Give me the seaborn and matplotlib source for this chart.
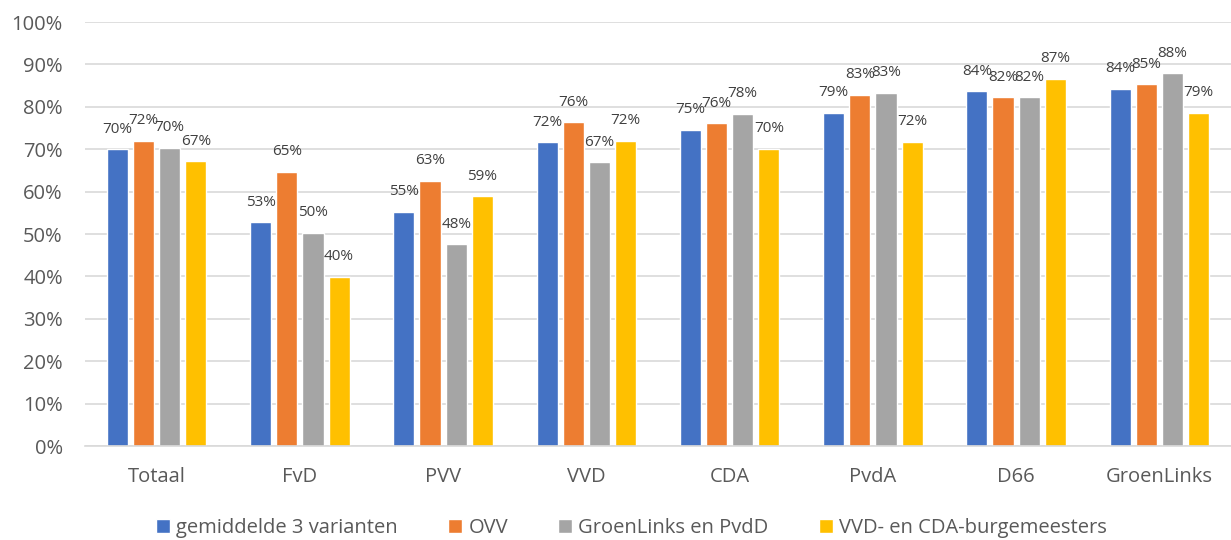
import matplotlib
matplotlib.use("Agg")
import matplotlib.pyplot as plt
import seaborn as sns
import pandas as pd
from matplotlib.ticker import PercentFormatter, MultipleLocator

categories = ["Totaal", "FvD", "PVV", "VVD", "CDA", "PvdA", "D66", "GroenLinks"]
series = ["gemiddelde 3 varianten", "OVV", "GroenLinks en PvdD", "VVD- en CDA-burgemeesters"]
gemiddelde = [70.0, 52.8, 55.3, 71.6, 74.6, 78.6, 83.7, 84.2]
ovv = [72.0, 64.7, 62.6, 76.3, 76.1, 82.8, 82.3, 85.3]
gl_pvdd = [70.4, 50.3, 47.6, 66.9, 78.4, 83.3, 82.3, 87.9]
vvd_cda = [67.2, 39.9, 58.9, 72.0, 70.1, 71.8, 86.6, 78.6]
colors = ["#4472C4", "#ED7D31", "#A5A5A5", "#FFC000"]

values = [gemiddelde, ovv, gl_pvdd, vvd_cda]
rows = []
for s, vals in zip(series, values):
    for c, v in zip(categories, vals):
        rows.append({"categorie": c, "reeks": s, "waarde": v})
df = pd.DataFrame(rows)

sns.set_theme(style="white")
plt.rcParams["font.family"] = ["Open Sans", "DejaVu Sans"]
text_color = "#595959"

fig = plt.figure(figsize=(12.31, 5.40), dpi=100)
ax = fig.add_axes([85 / 1231, 1 - 446 / 540, 1 - 85 / 1231, (446 - 22) / 540])

sns.barplot(data=df, x="categorie", y="waarde", hue="reeks", order=categories,
            hue_order=series, palette=colors, width=0.73, gap=0.19,
            saturation=1, ax=ax, legend=True, errorbar=None)

for cont in ax.containers:
    ax.bar_label(cont, labels=[f"{v:.0f}%" for v in cont.datavalues],
                 padding=9, fontsize=11, color="#404040")

ax.set_ylim(0, 100)
ax.set_xlim(-0.5, len(categories) - 0.5)
ax.yaxis.set_major_locator(MultipleLocator(10))
ax.yaxis.set_major_formatter(PercentFormatter(decimals=0))
ax.grid(axis="y", color="#D9D9D9", linewidth=1.2)
ax.set_axisbelow(True)
for side in ["top", "right", "left"]:
    ax.spines[side].set_visible(False)
ax.spines["bottom"].set_color("#D9D9D9")
ax.spines["bottom"].set_linewidth(1.2)
ax.tick_params(axis="y", length=0, pad=16, labelsize=14.5, labelcolor=text_color)
ax.tick_params(axis="x", length=0, pad=15, labelsize=14.5, labelcolor=text_color)
ax.set_xlabel("")
ax.set_ylabel("")

handles, labels = ax.get_legend_handles_labels()
ax.get_legend().remove()
fig.legend(handles, labels, loc="center", bbox_to_anchor=(0.513, 0.022), ncol=4,
           frameon=False, fontsize=14.5, labelcolor=text_color, handlelength=0.7,
           handleheight=0.7, handletextpad=0.3, columnspacing=2.5,
           borderaxespad=0)

fig.savefig("out.png", dpi=100)
